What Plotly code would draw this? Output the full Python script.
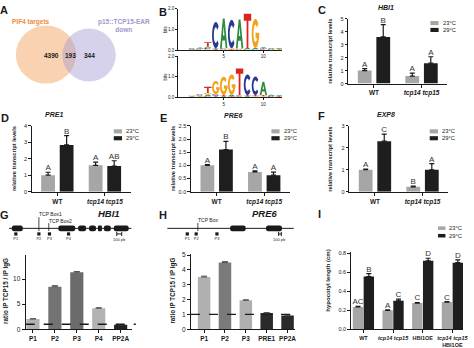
import math
import plotly.graph_objects as go

W, H = 474, 348
FONT = "Liberation Sans, Arial, Helvetica, sans-serif"
INK = "#1a1a1a"
GRAY = "#a6a6a6"
DARK = "#1e1e1e"

# ---------------- data ----------------
venn_labels = ["PIF4 targets", "p15::TCP15-EAR<br>down"]
venn_counts = [4390, 193, 344]

logo_positions = list(range(1, 13))
logo1_letters = ["GAC", "CTA", "GCAT", "ATC", "GCA", "TGC", "CGA", "CAT", "CAG", "CTA", "GCA", "GTA"]
logo1_heights = [[.03, .03, .02], [.04, .04, .05], [.05, .06, .06, .22], [.04, .05, 1.28],
                 [.04, .05, 1.45], [.04, .05, 1.38], [.04, .05, 1.4], [.04, .06, 1.66],
                 [.04, .06, 1.42], [.04, .05, .05], [.03, .04, .04], [.03, .03, .04]]
logo2_letters = ["TAG", "AGC", "CAGT", "ATCG", "ATG", "TAG", "GCT", "ATC", "GTC", "GTA", "GCA", "GTA"]
logo2_heights = [[.03, .03, .03], [.04, .05, .06], [.05, .08, .08, .3], [.04, .05, .06, .65],
                 [.05, .06, .9], [.05, .07, 1.0], [.04, .06, 1.3], [.05, .06, 1.0],
                 [.05, .06, .9], [.05, .06, .65], [.03, .04, .05], [.03, .03, .04]]

qpcr_genes = ["HBI1", "PRE1", "PRE6", "EXP8"]
qpcr_genotypes = ["WT", "tcp14 tcp15"]
temps = ["23°C", "29°C"]
qpcr_23 = [[1.0, 0.58], [1.0, 1.6], [1.0, 0.75], [1.0, 0.22]]
qpcr_23_err = [[0.15, 0.22], [0.18, 0.2], [0.03, 0.04], [0.03, 0.03]]
qpcr_29 = [[3.6, 1.57], [2.84, 1.56], [1.6, 0.625], [2.3, 1.0]]
qpcr_29_err = [[0.95, 0.5], [0.56, 0.32], [0.31, 0.12], [0.32, 0.28]]
qpcr_letters_23 = [["A", "A"], ["A", "A"], ["A", "A"], ["A", "B"]]
qpcr_letters_29 = [["B", "A"], ["B", "AB"], ["B", "A"], ["C", "A"]]
qpcr_ymax = [5, 4, 2.5, 3]
qpcr_dtick = [1, 1, 0.5, 1]

hbi1_length = 2480
hbi1_exon_start = [60, 1000, 1400, 1620, 1800, 1920, 2120]
hbi1_exon_end = [280, 1340, 1560, 1760, 1880, 2060, 2420]
hbi1_tcp_boxes = [606, 806]
hbi1_tcp_labels = ["TCP Box1", "TCP Box2"]
hbi1_primers = ["P1", "P2", "P3", "P4"]
hbi1_primer_pos = [140, 606, 820, 1206]
hbi1_scale_start = 2180

pre6_length = 4740
pre6_exon_start = [2357, 3700]
pre6_exon_end = [2934, 4292]
pre6_tcp_boxes = [1147]
pre6_tcp_labels = ["TCP Box"]
pre6_primers = ["P1", "P2", "P3"]
pre6_primer_pos = [751, 1084, 1861]
pre6_scale_start = 4170

chip_hbi1_sites = ["P1", "P2", "P3", "P4", "PP2A"]
chip_hbi1_ratio = [2.05, 8.5, 11.4, 4.2, 0.9]
chip_hbi1_err = [0.06, 0.2, 0.12, 0.1, 0.05]
chip_pre6_sites = ["P1", "P2", "P3", "PRE1", "PP2A"]
chip_pre6_ratio = [3.52, 4.5, 1.95, 1.1, 0.93]
chip_pre6_err = [0.06, 0.06, 0.04, 0.03, 0.04]

hyp_genotypes = ["WT", "tcp14 tcp15", "HBI1OE", "tcp14 tcp15 HBI1OE"]
hyp_23 = [0.236, 0.2, 0.277, 0.287]
hyp_23_err = [0.006, 0.005, 0.006, 0.006]
hyp_29 = [0.557, 0.30, 0.723, 0.703]
hyp_29_err = [0.03, 0.018, 0.027, 0.03]
hyp_letters_23 = ["AC", "A", "C", "C"]
hyp_letters_29 = ["B", "C", "D", "D"]

# ---------------- helpers ----------------
def px_x(p): return p / W
def px_y(p): return 1 - p / H
def dom_x(a, b): return [a / W, b / W]
def dom_y(top, bottom): return [1 - bottom / H, 1 - top / H]

fig = go.Figure()
layout = {}
ann = []
shapes = []
axis_count = [0]


def new_axes(xdom, ydom, xcfg, ycfg):
    axis_count[0] += 1
    n = axis_count[0]
    s = "" if n == 1 else str(n)
    layout["xaxis" + s] = dict(domain=xdom, anchor="y" + s, **xcfg)
    layout["yaxis" + s] = dict(domain=ydom, anchor="x" + s, **ycfg)
    return "x" + s, "y" + s


def ax_style(**kw):
    d = dict(showgrid=False, zeroline=False, showline=True, linecolor=INK, linewidth=1.2,
             ticks="outside", ticklen=3, tickwidth=1, tickcolor=INK,
             tickfont=dict(family=FONT, size=6, color=INK), fixedrange=True)
    d.update(kw)
    return d


def text(t, x, y, size=6, color=INK, xanchor="center", yanchor="middle", angle=0, **kw):
    a = dict(text=t, x=px_x(x), y=px_y(y), xref="paper", yref="paper", showarrow=False,
             xanchor=xanchor, yanchor=yanchor, textangle=angle,
             font=dict(family=FONT, size=size, color=color))
    a.update(kw)
    ann.append(a)


def legend(x, y, w=8.3, h=4.2, gap=7):
    for k, (lab, col) in enumerate(zip(temps, [GRAY, DARK])):
        yy = y + k * gap
        shapes.append(dict(type="rect", xref="paper", yref="paper", x0=px_x(x), x1=px_x(x + w),
                           y0=px_y(yy + h), y1=px_y(yy), fillcolor=col, line=dict(width=0)))
        text(lab, x + w + 2, yy + h / 2, size=5.8, xanchor="left")


# ---------------- panel labels ----------------
for lab, x, y in [("A", 4, 7.5), ("B", 165, 9), ("C", 325, 7.5), ("D", 5, 117), ("E", 165, 117),
                  ("F", 325, 115), ("G", 5, 216), ("H", 165, 216), ("I", 323, 215)]:
    text(f"<b>{lab}</b>", x, y, size=11)

# ---------------- A: Venn ----------------
shapes.append(dict(type="circle", xref="paper", yref="paper", x0=px_x(16), x1=px_x(77),
                   y0=px_y(82), y1=px_y(23), fillcolor="rgba(243,165,100,0.5)", line=dict(width=0)))
shapes.append(dict(type="circle", xref="paper", yref="paper", x0=px_x(63), x1=px_x(117),
                   y0=px_y(80), y1=px_y(26), fillcolor="rgba(165,155,210,0.45)", line=dict(width=0)))
text(f"<b>{venn_labels[0]}</b>", 31.7, 19.3, size=6.5, color="#ef8a3e")
text(f"<b>{venn_labels[1]}</b>", 125, 23, size=6.5, color="#9e99cb")
for v, x in zip(venn_counts, [51.7, 71, 90]):
    text(f"<b>{v}</b>", x, 53.5, size=6.5)

# ---------------- B: sequence logos ----------------
def arc(cx, cy, rx, ry, a0, a1, n=16):
    return [(cx + rx * math.cos(math.radians(a0 + (a1 - a0) * i / n)),
             cy + ry * math.sin(math.radians(a0 + (a1 - a0) * i / n))) for i in range(n + 1)]


GLYPHS = {
    "T": [[[(0, 1), (1, 1), (1, .8), (.62, .8), (.62, 0), (.38, 0), (.38, .8), (0, .8)]]],
    "A": [[[(0, 0), (.38, 1), (.62, 1), (1, 0), (.76, 0), (.67, .26), (.33, .26), (.24, 0)],
           [(.6, .43), (.5, .74), (.4, .43)]]],
    "C": [[arc(.5, .5, .5, .5, 40, 320) + arc(.5, .5, .26, .3, 320, 40)]],
    "G": [[arc(.5, .5, .5, .5, 40, 360) + arc(.5, .5, .26, .3, 360, 40)],
          [[(.52, .52), (1, .52), (1, .34), (.52, .34)]]],
}
logo_colors = {"A": "#2e8b3f", "C": "#263a96", "G": "#f2a31c", "T": "#d8261f"}

for letters, heights, top, bottom in [(logo1_letters, logo1_heights, 6, 48),
                                      (logo2_letters, logo2_heights, 54, 96)]:
    xa, ya = new_axes(dom_x(180, 285), dom_y(top, bottom),
                      ax_style(range=[-0.75, 12.35], tickvals=[5, 10], ticklen=2, linewidth=0.8,
                               tickfont=dict(family=FONT, size=4.5, color=INK)),
                      ax_style(range=[0, 2], tickvals=[0, 1, 2], ticktext=["0.0", "1.0", "2.0"],
                               ticklen=2, linewidth=0.8, tickfont=dict(family=FONT, size=4.5, color=INK)))
    fig.add_trace(go.Scatter(x=logo_positions, y=[0] * len(logo_positions), mode="markers",
                             marker=dict(opacity=0), xaxis=xa, yaxis=ya, hoverinfo="skip", showlegend=False))
    for pos, lets, hs in zip(logo_positions, letters, heights):
        base = 0.0
        for L, h in zip(lets, hs):
            for sub in GLYPHS[L]:
                path = ""
                for poly in sub:
                    path += "M " + " L ".join(f"{pos - 0.47 + 0.94 * u:.3f},{base + h * v:.4f}"
                                              for u, v in poly) + " Z "
                shapes.append(dict(type="path", path=path, xref=xa, yref=ya,
                                   fillcolor=logo_colors[L], line=dict(width=0), layer="above"))
            base += h
    text("bits", 167.5, (top + bottom) / 2, size=4.5, angle=-90)

# ---------------- C-F: qPCR ----------------
qpcr_boxes = [(352, 452, 16, 82), (32, 132, 125, 192), (193, 293, 125, 192), (353, 453, 125, 192)]
qpcr_title_xy = [(390, 5), (55, 113.5), (235, 114), (390, 113.5)]
qpcr_ylabel_x = [334, 13.5, 175, 333.5]
qpcr_legend_xy = [(435, 18.3), (115, 128.5), (274.3, 128.5), (434.3, 128.5)]

for i in range(4):
    x0, x1, t, b = qpcr_boxes[i]
    xa, ya = new_axes(dom_x(x0, x1), dom_y(t, b),
                      ax_style(range=[-0.54, 1.54], tickvals=[0, 1],
                               ticktext=["<b>WT</b>", "<b><i>tcp14 tcp15</i></b>"],
                               tickfont=dict(family=FONT, size=6.5, color=INK)),
                      ax_style(range=[0, qpcr_ymax[i]], dtick=qpcr_dtick[i], ticklen=2.5,
                               tickformat=".1f" if i == 2 else "d",
                               tickfont=dict(family=FONT, size=5.5, color=INK)))
    for vals, errs, lets, col, off in [(qpcr_23[i], qpcr_23_err[i], qpcr_letters_23[i], GRAY, -0.195),
                                       (qpcr_29[i], qpcr_29_err[i], qpcr_letters_29[i], DARK, 0.195)]:
        xs = [g + off for g in range(len(qpcr_genotypes))]
        fig.add_trace(go.Bar(x=xs, y=vals, width=0.29, marker=dict(color=col, line=dict(width=0)),
                             error_y=dict(type="data", array=errs, arrayminus=[0] * len(errs),
                                          symmetric=False, color=INK, thickness=1.2, width=2.5),
                             xaxis=xa, yaxis=ya, showlegend=False, hoverinfo="skip"))
        fig.add_trace(go.Scatter(x=xs, y=[v + e for v, e in zip(vals, errs)], mode="text", text=lets,
                                 textposition="top center", cliponaxis=False,
                                 textfont=dict(family=FONT, size=8, color="#333333"),
                                 xaxis=xa, yaxis=ya, showlegend=False, hoverinfo="skip"))
    tx, ty = qpcr_title_xy[i]
    text(f"<b><i>{qpcr_genes[i]}</i></b>", tx, ty, size=7)
    text("<b>relative transcript levels</b>", qpcr_ylabel_x[i], (t + b) / 2, size=5.7, angle=-90)
    legend(*qpcr_legend_xy[i])

# ---------------- G, H: gene diagrams ----------------
def gene(xpx, length, starts, ends, boxes, box_labels, box_tops, label_ys, primers, primer_pos,
         scale_start, title, title_xy):
    xa, ya = new_axes(dom_x(*xpx), dom_y(209.3, 249.3),
                      dict(visible=False, range=[0, length], fixedrange=True),
                      dict(visible=False, range=[-20, 20], fixedrange=True))
    fig.add_trace(go.Scatter(x=[0, length], y=[0, 0], mode="lines", line=dict(color=INK, width=1),
                             xaxis=xa, yaxis=ya, showlegend=False, hoverinfo="skip"))
    fig.add_trace(go.Bar(orientation="h", base=starts, x=[e - s for s, e in zip(starts, ends)],
                         y=[0] * len(starts), width=6, marker=dict(color=INK, cornerradius=2, line=dict(width=0)),
                         xaxis=xa, yaxis=ya, showlegend=False, hoverinfo="skip"))
    for bx, bl, btop, ly in zip(boxes, box_labels, box_tops, label_ys):
        fig.add_trace(go.Scatter(x=[bx, bx], y=[btop, -2.7], mode="lines", line=dict(color=INK, width=0.8),
                                 xaxis=xa, yaxis=ya, showlegend=False, hoverinfo="skip"))
        ann.append(dict(text=bl, x=bx, y=ly, xref=xa, yref=ya, showarrow=False, xanchor="left",
                        yanchor="middle", xshift=-1.5, font=dict(family=FONT, size=5, color=INK)))
    fig.add_trace(go.Scatter(x=primer_pos, y=[-5.7] * len(primer_pos), mode="markers+text",
                             marker=dict(symbol="square", size=3.2, color=INK), text=primers,
                             textposition="bottom center", textfont=dict(family=FONT, size=4, color=INK),
                             xaxis=xa, yaxis=ya, showlegend=False, hoverinfo="skip", cliponaxis=False))
    fig.add_trace(go.Scatter(x=[scale_start, scale_start + 100], y=[-5.7, -5.7], mode="lines+markers",
                             line=dict(color=INK, width=1), marker=dict(symbol="line-ns-open", size=3,
                                                                        line=dict(color=INK, width=1)),
                             xaxis=xa, yaxis=ya, showlegend=False, hoverinfo="skip", cliponaxis=False))
    ann.append(dict(text="100 pb", x=scale_start + 50, y=-11.5, xref=xa, yref=ya, showarrow=False,
                    font=dict(family=FONT, size=4, color=INK)))
    text(f"<b><i>{title}</i></b>", *title_xy, size=9.5)


gene((9, 133), hbi1_length, hbi1_exon_start, hbi1_exon_end, hbi1_tcp_boxes, hbi1_tcp_labels,
     [11.3, 5.3], [14.5, 7.3], hbi1_primers, hbi1_primer_pos, hbi1_scale_start, "HBI1", (110, 214.5))
gene((169, 297), pre6_length, pre6_exon_start, pre6_exon_end, pre6_tcp_boxes, pre6_tcp_labels,
     [5.5], [8.5], pre6_primers, pre6_primer_pos, pre6_scale_start, "PRE6", (268, 214.5))

# ---------------- G, H: ChIP bars ----------------
def chip(box, sites, ratio, err, colors, xr, ymax, dtick, ylabel_x):
    x0, x1, t, b = box
    xa, ya = new_axes(dom_x(x0, x1), dom_y(t, b),
                      ax_style(range=xr, tickvals=list(range(len(sites))),
                               ticktext=[f"<b>{s}</b>" for s in sites],
                               tickfont=dict(family=FONT, size=6.5, color=INK)),
                      ax_style(range=[0, ymax], dtick=dtick, tickfont=dict(family=FONT, size=6.5, color=INK)))
    fig.add_trace(go.Bar(x=list(range(len(sites))), y=ratio, width=0.6,
                         marker=dict(color=colors, line=dict(width=0)),
                         error_y=dict(type="data", array=err, arrayminus=[0] * len(err), symmetric=False,
                                      color="#555", thickness=1, width=3),
                         xaxis=xa, yaxis=ya, showlegend=False, hoverinfo="skip"))
    shapes.append(dict(type="line", xref=f"{xa} domain", yref=ya, x0=0, x1=1.04, y0=1, y1=1,
                       line=dict(color=INK, width=1.3, dash="dash")))
    text("<b>ratio IP TCP15 / IP IgG</b>", ylabel_x, (t + b) / 2 - 1, size=6.3, angle=-90)


chip((26, 133, 256, 332), chip_hbi1_sites, chip_hbi1_ratio, chip_hbi1_err,
     ["#b3b3b3", "#737373", "#6b6b6b", "#b3b3b3", "#222222"], [-0.33, 4.5], 14.9, 5, 6)
chip((193, 298, 255, 332), chip_pre6_sites, chip_pre6_ratio, chip_pre6_err,
     ["#b0b0b0", "#7a7a7a", "#b0b0b0", "#2a2a2a", "#2a2a2a"], [-0.63, 4.35], 5.1, 1, 175)

# ---------------- I: hypocotyl ----------------
xa, ya = new_axes(dom_x(355, 468), dom_y(253, 332),
                  ax_style(range=[-0.41, 3.36], tickvals=list(range(4)),
                           ticktext=["<b>WT</b>", "<b><i>tcp14 tcp15</i></b>", "<b>HBI1OE</b>",
                                     "<b><i>tcp14 tcp15</i><br>HBI1OE</b>"],
                           tickfont=dict(family=FONT, size=5.5, color=INK)),
                  ax_style(range=[0, 0.82], dtick=0.2, tickformat=".1f",
                           tickfont=dict(family=FONT, size=5.5, color=INK)))
for vals, errs, lets, col, off in [(hyp_23, hyp_23_err, hyp_letters_23, GRAY, -0.183),
                                   (hyp_29, hyp_29_err, hyp_letters_29, DARK, 0.183)]:
    xs = [g + off for g in range(len(hyp_genotypes))]
    fig.add_trace(go.Bar(x=xs, y=vals, width=0.35, marker=dict(color=col, line=dict(width=0)),
                         error_y=dict(type="data", array=errs, arrayminus=[0] * len(errs), symmetric=False,
                                      color=INK, thickness=1.2, width=2.5),
                         xaxis=xa, yaxis=ya, showlegend=False, hoverinfo="skip"))
    fig.add_trace(go.Scatter(x=xs, y=[v + e for v, e in zip(vals, errs)], mode="text", text=lets,
                             textposition="top center", cliponaxis=False,
                             textfont=dict(family=FONT, size=8, color="#333333"),
                             xaxis=xa, yaxis=ya, showlegend=False, hoverinfo="skip"))
text("<b>hypocotyl length (cm)</b>", 332, 282, size=6, angle=-90)
legend(442.7, 227.3, w=7.5, h=3.6, gap=7.7)

fig.update_layout(**layout)
fig.update_layout(width=W, height=H, margin=dict(l=0, r=0, t=0, b=0), paper_bgcolor="white",
                  plot_bgcolor="white", barmode="overlay", showlegend=False,
                  annotations=ann, shapes=shapes, font=dict(family=FONT))
fig.write_html("out.html", config={"displayModeBar": False})
